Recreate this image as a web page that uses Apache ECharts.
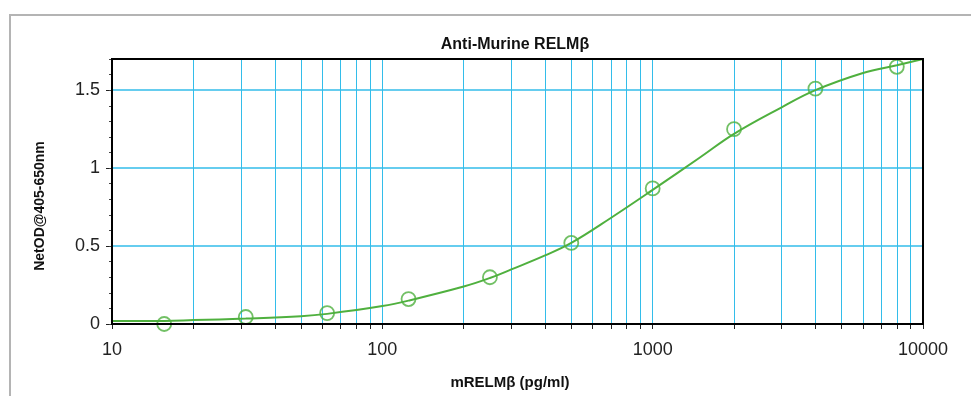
<!DOCTYPE html>
<html>
<head>
<meta charset="utf-8">
<script src="https://cdn.jsdelivr.net/npm/echarts@6/dist/echarts.min.js"></script>
<style>
html,body{margin:0;padding:0;background:#fff;}
#chart{width:971px;height:396px;}
</style>
</head>
<body>
<div id="chart"></div>
<script>
// Standard points (concentration pg/ml, NetOD)
const stdConc = [15.6, 31.25, 62.5, 125, 250, 500, 1000, 2000, 4000, 8000];
const stdOD   = [0.00, 0.045, 0.07, 0.16, 0.30, 0.52, 0.87, 1.25, 1.51, 1.65];

// Fitted curve
const curveConc = [10, 15.6, 20, 31.25, 50, 62.5, 100, 125, 200, 250, 300, 400, 500, 700, 1000, 1500, 2000, 3000, 4000, 6000, 8000, 10000];
const curveOD   = [0.02, 0.02, 0.025, 0.035, 0.05, 0.065, 0.115, 0.15, 0.24, 0.295, 0.35, 0.44, 0.52, 0.68, 0.86, 1.07, 1.22, 1.39, 1.50, 1.61, 1.66, 1.70];

// Axis ticks
const xLabelTicks = [10, 100, 1000, 10000];
const xGridTicks = [10,20,30,40,50,60,70,80,90,100,200,300,400,500,600,700,800,900,1000,2000,3000,4000,5000,6000,7000,8000,9000,10000];
const yLabelTicks = [0, 0.5, 1, 1.5];
const yMinorTicks = [0, 0.1, 0.2, 0.3, 0.4, 0.5, 0.6, 0.7, 0.8, 0.9, 1.0, 1.1, 1.2, 1.3, 1.4, 1.5, 1.6, 1.7];

const title = 'Anti-Murine RELMβ';
const xName = 'mRELMβ (pg/ml)';
const yName = 'NetOD@405-650nm';

const GRID = '#33bdea';
const GREEN = '#4fb03e';
const FONT = 'Liberation Sans, Arial, sans-serif';

const chart = echarts.init(document.getElementById('chart'), null, {renderer: 'canvas'});
chart.setOption({
  animation: false,
  backgroundColor: '#fff',
  graphic: [{
    type: 'rect', shape: {x: 10, y: 15, width: 1000, height: 420},
    style: {fill: 'none', stroke: '#b4b4b4', lineWidth: 2}, z: -1
  }, {
    type: 'text', x: 40, y: 206, rotation: Math.PI / 2,
    style: {text: yName, fontFamily: FONT, fontSize: 14, fontWeight: 'bold', fill: '#111', align: 'center', verticalAlign: 'middle'}
  }, {
    type: 'text', x: 510, y: 383,
    style: {text: xName, fontFamily: FONT, fontSize: 15, fontWeight: 'bold', fill: '#111', align: 'center', verticalAlign: 'middle'}
  }],
  title: {
    text: title, left: 510, textAlign: 'center', top: 32,
    textStyle: {fontFamily: FONT, fontSize: 16, fontWeight: 'bold', color: '#111'}
  },
  grid: {left: 112, right: 48, top: 59, bottom: 72, show: true, borderColor: '#000', borderWidth: 2, backgroundColor: 'transparent', z: 5},
  xAxis: [{
    type: 'log', logBase: 10, min: 10, max: 10000,
    axisLine: {show: true, onZero: false, lineStyle: {color: '#000', width: 2}},
    axisTick: {show: true, customValues: xGridTicks, length: 5, lineStyle: {color: '#222', width: 1}},
    axisLabel: {customValues: xLabelTicks, formatter: v => String(Math.round(v)), fontFamily: FONT, fontSize: 18, color: '#222', margin: 17},
    splitLine: {show: true, lineStyle: {color: GRID, width: 1}},
    minorTick: {show: false}
  }],
  yAxis: [{
    type: 'value', min: 0, max: 1.7,
    axisLine: {show: true, onZero: false, lineStyle: {color: '#000', width: 2}},
    axisTick: {show: true, customValues: yLabelTicks, length: 6, lineStyle: {color: '#222', width: 1}},
    axisLabel: {customValues: yLabelTicks, fontFamily: FONT, fontSize: 18, color: '#222', margin: 12},
    splitLine: {show: true, lineStyle: {color: GRID, width: 1.5}}
  }, {
    type: 'value', min: 0, max: 1.7, position: 'left', offset: 0,
    axisLine: {show: false},
    axisTick: {show: true, customValues: yMinorTicks, length: 3, lineStyle: {color: '#444', width: 1}},
    axisLabel: {show: false},
    splitLine: {show: false}
  }],
  series: [{
    type: 'line', name: 'fit', smooth: 0.4, showSymbol: false, symbol: 'none',
    data: curveConc.map((c, i) => [c, curveOD[i]]),
    lineStyle: {color: GREEN, width: 2}, z: 3
  }, {
    type: 'scatter', name: 'std',
    data: stdConc.map((c, i) => [c, stdOD[i]]),
    symbol: 'circle', symbolSize: 14,
    itemStyle: {color: 'rgba(255,255,255,0)', borderColor: GREEN, borderWidth: 1.8},
    z: 4
  }]
});
</script>
</body>
</html>
